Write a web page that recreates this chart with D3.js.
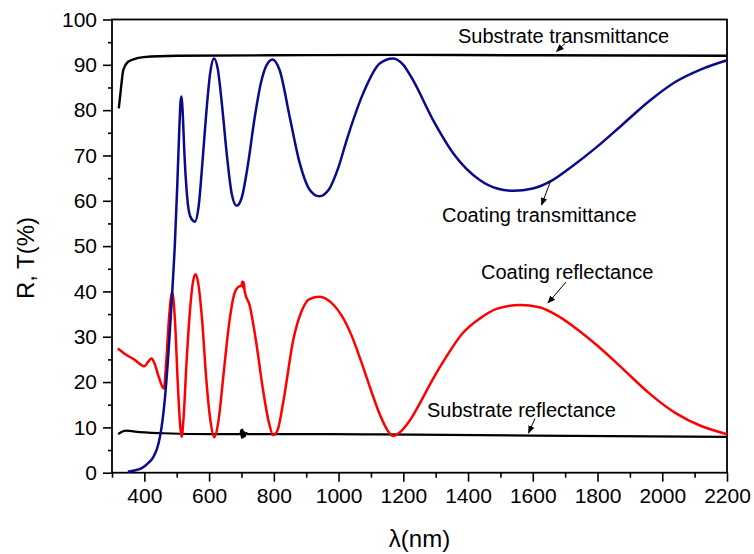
<!DOCTYPE html>
<html>
<head>
<meta charset="utf-8">
<script src="https://cdn.jsdelivr.net/npm/d3@7"></script>
<style>
  body { margin: 0; background: #fff; }
  svg text { font-family: "Liberation Sans", Arial, sans-serif; }
</style>
</head>
<body>
<div id="chart"></div>
<script>
// wavelength (nm) / value (%) pairs
const subTransNm  = [321, 328, 335, 350, 366, 397, 500, 800, 1200, 1600, 2200];
const subTransVal = [80.4, 85, 88.9, 90.7, 91.2, 91.7, 92, 92.1, 92.2, 92.1, 92];

const subReflNm  = [319, 332, 345, 371, 458, 613, 697, 699, 701, 703, 705, 707, 710, 714, 720, 973, 1127, 1600, 2200];
const subReflVal = [8.5, 9.1, 9.3, 9.05, 8.7, 8.5, 8.5, 9.4, 7.7, 9.5, 7.8, 9.0, 8.0, 8.8, 8.5, 8.5, 8.45, 8.2, 7.9];

const coatTransNm  = [349, 370, 392, 410, 428, 440, 448, 456, 464, 472, 479, 487, 494, 502, 508, 512, 515, 518, 524, 532, 542, 556,
  568, 580, 592, 603, 615, 627, 640, 655, 670, 685, 700, 720, 740, 760, 778, 796, 818, 849, 880, 910, 940, 970, 1000, 1025,
  1076, 1127, 1168, 1200, 1230, 1292, 1354, 1436, 1490, 1540, 1600, 1660, 1720, 1800, 1880, 1960, 2040, 2120, 2200];
const coatTransVal = [0.2, 0.5, 1.0, 2, 3.5, 5.5, 7.9, 11.5, 16.8, 24, 31.5, 41, 50, 64, 76, 82, 83, 80, 70, 61, 56.5, 55.4,
  59, 69, 80, 88, 91.4, 89, 81, 70, 61.5, 58.9, 60.5, 68, 78, 86, 90, 91.2, 88.8, 78.5, 68.3, 62.5, 61, 62.5, 67.5, 73.4,
  83.7, 90.3, 91.4, 90, 86.6, 77.8, 70.5, 64.6, 62.7, 62.2, 62.7, 64.5, 67.5, 72, 77, 82, 86.2, 89, 91.0];

const coatReflNm  = [318, 340, 370, 400, 412, 422, 432, 445, 460, 468, 476, 486, 495, 503, 510, 515, 521, 530, 540, 550, 558,
  566, 578, 592, 605, 616, 628, 645, 662, 678, 690, 700, 703, 705, 707, 710, 725, 745, 765, 785, 798, 812, 830, 860, 885,
  910, 942, 960, 985, 1010, 1040, 1070, 1100, 1130, 1150, 1168, 1195, 1220, 1251, 1290, 1333, 1380, 1436, 1490, 1560, 1620,
  1680, 1740, 1800, 1880, 1960, 2040, 2120, 2200];
const coatReflVal = [27.4, 26.2, 24.9, 23.5, 24.5, 25.2, 24, 21, 18.6, 25, 34, 39.8, 33, 20, 11, 7.9, 12, 24, 35, 42, 43.8,
  42, 34, 20, 11, 7.8, 11, 22, 33, 39.5, 41, 41.3, 42.2, 40.8, 42, 40, 37, 29, 19, 11, 8.3, 9.5, 16, 29.3, 35.5,
  38.3, 38.8, 38.4, 37, 34.6, 30.3, 24.5, 18.2, 12.4, 9.5, 8.1, 9.3, 11.5, 15.3, 20.5, 25.6, 30.5, 34, 36.2, 37, 36.5,
  34.5, 31.5, 28, 22.8, 17.5, 13.2, 10.3, 8.5];

const xMajorTicks = [400, 600, 800, 1000, 1200, 1400, 1600, 1800, 2000, 2200];
const xMinorTicks = [300, 500, 700, 900, 1100, 1300, 1500, 1700, 1900, 2100];
const yMajorTicks = [0, 10, 20, 30, 40, 50, 60, 70, 80, 90, 100];
const yMinorTicks = [5, 15, 25, 35, 45, 55, 65, 75, 85, 95];

const width = 754, height = 554;
const plotLeft = 112, plotRight = 727, plotTop = 19.5, plotBottom = 472.7;

const svg = d3.select("#chart").append("svg")
  .attr("width", width)
  .attr("height", height);

const x = d3.scaleLinear().domain([300, 2200]).range([plotLeft, plotRight]);
const y = d3.scaleLinear().domain([0, 100]).range([plotBottom, plotTop]);

// axes
const xAxis = svg.append("g").attr("transform", "translate(0," + plotBottom + ")");
xAxis.call(d3.axisBottom(x).tickValues(xMajorTicks).tickSize(9).tickPadding(6).tickFormat(d3.format("d")));
xAxis.append("g").call(d3.axisBottom(x).tickValues(xMinorTicks).tickSize(5).tickFormat(""));

const yAxis = svg.append("g").attr("transform", "translate(" + plotLeft + ",0)");
yAxis.call(d3.axisLeft(y).tickValues(yMajorTicks).tickSize(9).tickPadding(6));
yAxis.append("g").call(d3.axisLeft(y).tickValues(yMinorTicks).tickSize(4).tickFormat(""));

svg.selectAll(".domain").remove();
svg.selectAll(".tick line").attr("stroke", "#000").attr("stroke-width", 1.6);
svg.selectAll(".tick text").attr("font-size", 21).attr("fill", "#000")
  .attr("font-family", "'Liberation Sans', Arial, sans-serif");

// frame
svg.append("rect")
  .attr("x", plotLeft).attr("y", plotTop)
  .attr("width", plotRight - plotLeft).attr("height", plotBottom - plotTop)
  .attr("fill", "none").attr("stroke", "#000").attr("stroke-width", 1.8);

// curves
const line = d3.line()
  .x(d => x(d[0]))
  .y(d => y(d[1]))
  .curve(d3.curveMonotoneX);

const series = [
  { nm: subReflNm, val: subReflVal, color: "#000", w: 2.2 },
  { nm: subTransNm, val: subTransVal, color: "#000", w: 2.4 },
  { nm: coatReflNm, val: coatReflVal, color: "#ff0000", w: 2.5 },
  { nm: coatTransNm, val: coatTransVal, color: "#0a0a8c", w: 2.5 },
];

series.forEach(s => {
  svg.append("path")
    .datum(d3.zip(s.nm, s.val))
    .attr("fill", "none")
    .attr("stroke", s.color)
    .attr("stroke-width", s.w)
    .attr("stroke-linejoin", "round")
    .attr("d", line);
});

// annotations
svg.append("defs").append("marker")
  .attr("id", "head")
  .attr("viewBox", "0 0 10 10")
  .attr("refX", 9).attr("refY", 5)
  .attr("markerWidth", 8).attr("markerHeight", 8)
  .attr("markerUnits", "userSpaceOnUse")
  .attr("orient", "auto")
  .append("path").attr("d", "M0,1 L10,5 L0,9 Z").attr("fill", "#000");

const notes = [
  { text: "Substrate transmittance", tx: 458, ty: 42.5, a: [565, 43.5, 556.5, 51.5] },
  { text: "Coating transmittance", tx: 442, ty: 221.5, a: [551, 180, 541.5, 205] },
  { text: "Coating reflectance", tx: 481, ty: 278.5, a: [566, 282, 548, 303] },
  { text: "Substrate reflectance", tx: 427, ty: 416.5, a: [535, 418.5, 528.5, 433] },
];

notes.forEach(n => {
  svg.append("text")
    .attr("x", n.tx).attr("y", n.ty)
    .attr("font-size", 20)
    .attr("fill", "#000")
    .text(n.text);
  svg.append("line")
    .attr("x1", n.a[0]).attr("y1", n.a[1])
    .attr("x2", n.a[2]).attr("y2", n.a[3])
    .attr("stroke", "#000").attr("stroke-width", 1)
    .attr("marker-end", "url(#head)");
});

// axis titles
svg.append("text")
  .attr("x", (plotLeft + plotRight) / 2).attr("y", 547)
  .attr("text-anchor", "middle")
  .attr("font-size", 24)
  .text("λ(nm)");

svg.append("text")
  .attr("transform", "translate(34," + 258 + ") rotate(-90)")
  .attr("text-anchor", "middle")
  .attr("font-size", 24)
  .text("R, T(%)");
</script>
</body>
</html>
